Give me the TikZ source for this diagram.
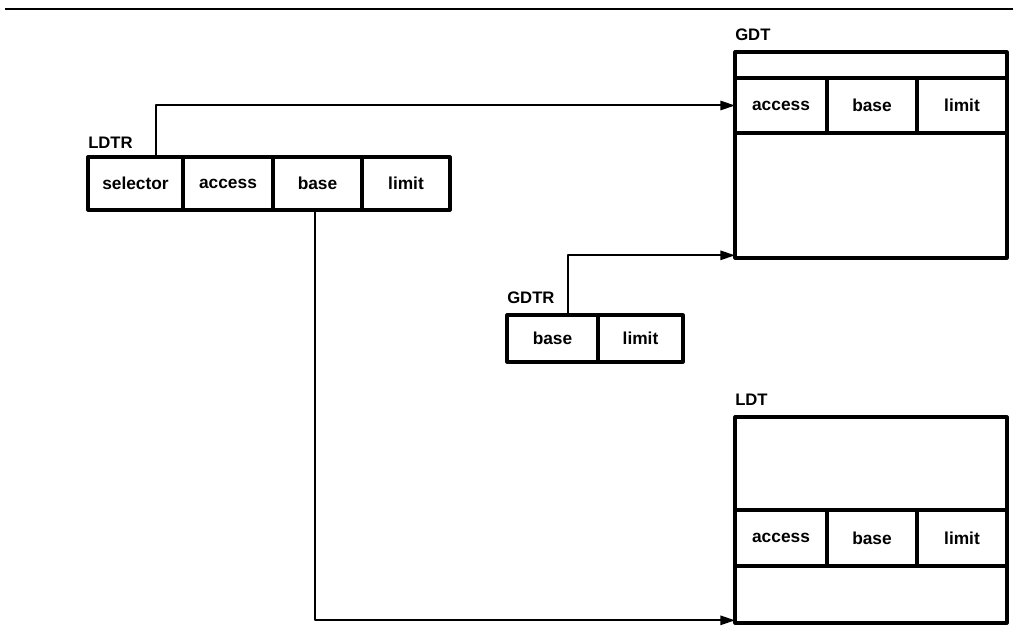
\documentclass[tikz,border=0pt]{standalone}
\usepackage{fontspec}
\setmainfont{Liberation Sans}
\usepackage{tikz}
\usetikzlibrary{arrows.meta,positioning}

\newcommand{\pxw}{0.75pt}

\tikzset{
  cell/.style={draw,line width=2.4pt,inner sep=0pt,outer sep=0pt,
    font=\bfseries\fontsize{13}{15}\selectfont},
  tag/.style={anchor=west,inner sep=0pt,font=\bfseries\fontsize{12.5}{14}\selectfont},
  link/.style={line width=1.5pt,-{Triangle[length=11pt,width=7pt]}},
}

\begin{document}
\begin{tikzpicture}[x=0.75pt, y=-0.75pt, line join=round]
  \useasboundingbox (0,0) rectangle (1013,630);
  \draw[line width=2.2pt] (5,9) -- (1013,9);
  % LDTR
  \node[tag] (ldtrlbl) at (88,143) {LDTR};
  \node[cell,minimum width=95*\pxw,minimum height=53*\pxw] (ldtrsel) at (135.5,183.5) {selector};
  \node[cell,minimum width=90*\pxw,minimum height=53*\pxw,right=0pt of ldtrsel] (ldtracc) {access};
  \node[cell,minimum width=89*\pxw,minimum height=53*\pxw,right=0pt of ldtracc] (ldtrbase) {base};
  \node[cell,minimum width=88*\pxw,minimum height=53*\pxw,right=0pt of ldtrbase] (ldtrlim) {limit};
  % GDT
  \node[tag] (gdtlbl) at (735,35) {GDT};
  \node[cell,minimum width=272*\pxw,minimum height=26*\pxw] (gdttop) at (871,65) {};
  \node[cell,minimum width=92*\pxw,minimum height=55*\pxw,below=0pt of gdttop.south west,anchor=north west] (gdtacc) {access};
  \node[cell,minimum width=90*\pxw,minimum height=55*\pxw,right=0pt of gdtacc] (gdtbase) {base};
  \node[cell,minimum width=90*\pxw,minimum height=55*\pxw,right=0pt of gdtbase] (gdtlim) {limit};
  \node[cell,minimum width=272*\pxw,minimum height=125*\pxw,below=0pt of gdtacc.south west,anchor=north west] (gdtbot) {};
  % GDTR
  \node[tag] (gdtrlbl) at (507,298) {GDTR};
  \node[cell,minimum width=91*\pxw,minimum height=47*\pxw] (gdtrbase) at (552.5,338.5) {base};
  \node[cell,minimum width=85*\pxw,minimum height=47*\pxw,right=0pt of gdtrbase] (gdtrlim) {limit};
  % LDT
  \node[tag] (ldtlbl) at (735,400) {LDT};
  \node[cell,minimum width=272*\pxw,minimum height=93*\pxw] (ldttop) at (871,463.5) {};
  \node[cell,minimum width=92*\pxw,minimum height=56*\pxw,below=0pt of ldttop.south west,anchor=north west] (ldtacc) {access};
  \node[cell,minimum width=90*\pxw,minimum height=56*\pxw,right=0pt of ldtacc] (ldtbase) {base};
  \node[cell,minimum width=90*\pxw,minimum height=56*\pxw,right=0pt of ldtbase] (ldtlim) {limit};
  \node[cell,minimum width=272*\pxw,minimum height=57*\pxw,below=0pt of ldtacc.south west,anchor=north west] (ldtbot) {};
  % connectors
  \draw[link] (156,0 |- ldtrsel.north) |- (gdtacc.west);
  \draw[link] (568,0 |- gdtrbase.north) |- ([yshift=2pt]gdtbot.south west);
  \draw[link] (315,0 |- ldtrbase.south) |- ([yshift=2pt]ldtbot.south west);
\end{tikzpicture}
\end{document}
